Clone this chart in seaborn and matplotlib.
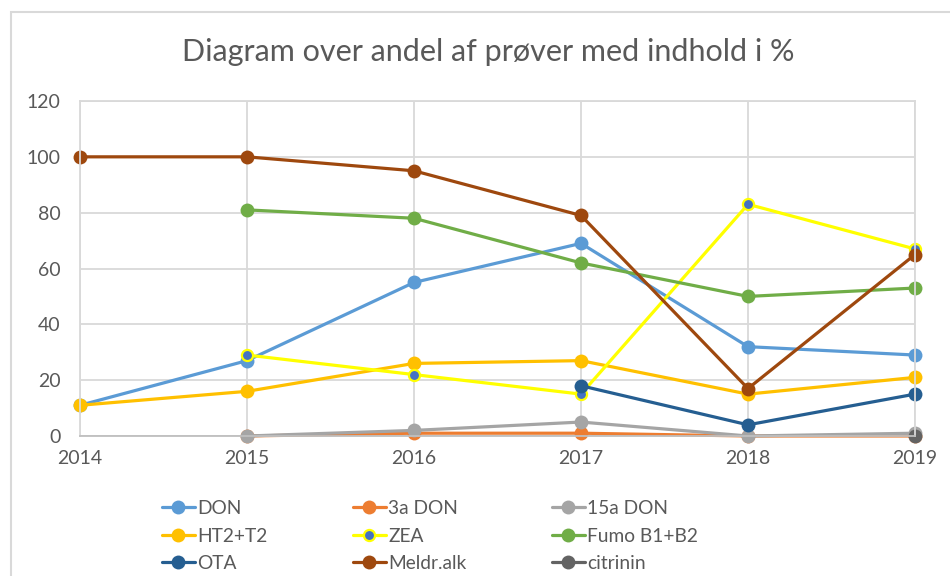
import numpy as np
import pandas as pd
import matplotlib
matplotlib.use("Agg")
import matplotlib.pyplot as plt
import matplotlib.patches as mpatches
import seaborn as sns

# data
years = [2014, 2015, 2016, 2017, 2018, 2019]
don = [11, 27, 55, 69, 32, 29]
don_3a = [np.nan, 0, 1, 1, 0, 0]
don_15a = [np.nan, 0, 2, 5, 0, 1]
ht2_t2 = [11, 16, 26, 27, 15, 21]
zea = [np.nan, 29, 22, 15, 83, 67]
fumo = [np.nan, 81, 78, 62, 50, 53]
ota = [np.nan, np.nan, np.nan, 18, 4, 15]
meldr = [100, 100, 95, 79, 17, 65]
citrinin = [np.nan, np.nan, np.nan, np.nan, np.nan, 0]

names = ["DON", "3a DON", "15a DON", "HT2+T2", "ZEA", "Fumo B1+B2", "OTA", "Meldr.alk", "citrinin"]
values = [don, don_3a, don_15a, ht2_t2, zea, fumo, ota, meldr, citrinin]
colors = ["#5B9BD5", "#ED7D31", "#A5A5A5", "#FFC000", "#FFFF00", "#70AD47", "#255E91", "#9E480E", "#636363"]

sns.set_style("white")
plt.rcParams['font.family'] = ['Lato', 'DejaVu Sans']
text_col = "#595959"

fig = plt.figure(figsize=(9.5, 5.76), dpi=100)
ax = fig.add_axes([80 / 950, 1 - 436 / 576, 835 / 950, 335 / 576])

for name, vals, col in zip(names, values, colors):
    df = pd.DataFrame({"year": years, "value": vals}).dropna()
    if name == "ZEA":
        sns.lineplot(data=df, x="year", y="value", ax=ax, color=col, lw=2.3,
                     marker="o", markersize=8, markerfacecolor="#4472C4",
                     markeredgecolor=col, markeredgewidth=1.6, label=name)
    else:
        sns.lineplot(data=df, x="year", y="value", ax=ax, color=col, lw=2.3,
                     marker="o", markersize=10, markeredgewidth=0, label=name)

ax.set_xlim(2014, 2019)
ax.set_ylim(0, 120)
ax.set_yticks(range(0, 121, 20))
ax.set_xticks(years)
ax.set_xlabel("")
ax.set_ylabel("")
ax.grid(True, color="#d9d9d9", lw=1.3)
ax.set_axisbelow(True)
for s in ax.spines.values():
    s.set_color("#d9d9d9")
    s.set_linewidth(1.3)
ax.spines["bottom"].set_color("#bfbfbf")
for m in ax.lines:
    m.set_clip_on(False)
ax.tick_params(axis="both", length=0, labelsize=14, labelcolor=text_col)
ax.tick_params(axis="y", pad=14)
ax.tick_params(axis="x", pad=10)

fig.text(488 / 950, 1 - 52 / 576, "Diagram over andel af prøver med indhold i %",
         ha="center", va="center", fontsize=22, color=text_col)

# legend filled row by row like the original
h, l = ax.get_legend_handles_labels()
ax.get_legend().remove()
order = [0, 3, 6, 1, 4, 7, 2, 5, 8]
fig.legend([h[i] for i in order], [l[i] for i in order], ncol=3,
           loc="upper left", bbox_to_anchor=(162 / 950, 1 - 500 / 576),
           frameon=False, fontsize=13.8, labelcolor=text_col,
           handlelength=1.7, handletextpad=0.15, columnspacing=4.45,
           labelspacing=0.55, borderpad=0, borderaxespad=0)

fig.patches.append(mpatches.Rectangle((11 / 950, -0.1), 2, 1 - 12 / 576 + 0.1,
                                      transform=fig.transFigure, fill=False,
                                      ec="#d9d9d9", lw=1.5))

fig.savefig("out.png", dpi=100)
